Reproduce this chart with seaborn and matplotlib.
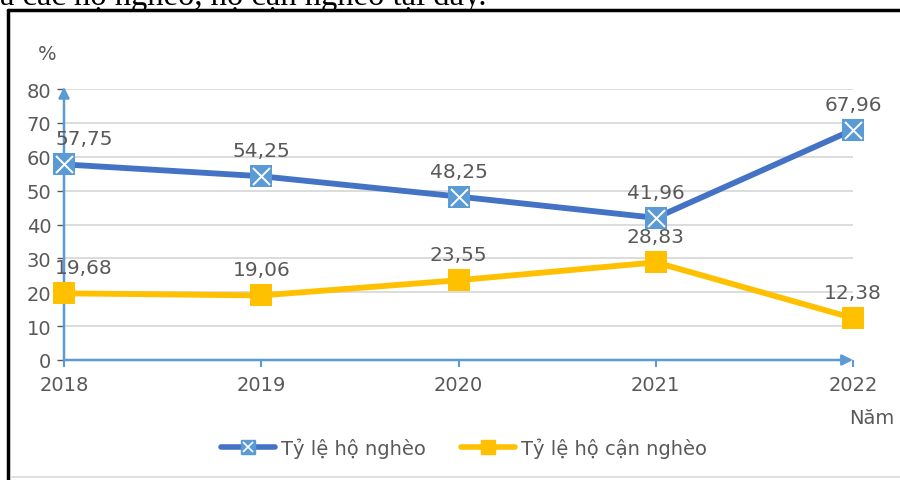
import matplotlib
matplotlib.use("Agg")
import matplotlib.pyplot as plt
import seaborn as sns
import pandas as pd
from matplotlib.lines import Line2D

years = [2018, 2019, 2020, 2021, 2022]
poor = [57.75, 54.25, 48.25, 41.96, 67.96]
near_poor = [19.68, 19.06, 23.55, 28.83, 12.38]
poor_labels = ["57,75", "54,25", "48,25", "41,96", "67,96"]
near_labels = ["19,68", "19,06", "23,55", "28,83", "12,38"]
yticks = [0, 10, 20, 30, 40, 50, 60, 70, 80]
name_poor = "Tỷ lệ hộ nghèo"
name_near = "Tỷ lệ hộ cận nghèo"

df = pd.DataFrame({
    "Năm": years * 2,
    "value": poor + near_poor,
    "series": [name_poor] * 5 + [name_near] * 5,
})

sns.set_style("white")
plt.rcParams['font.family'] = ['DejaVu Sans']

BLUE = "#4472C4"
LBLUE = "#5B9BD5"
YEL = "#FFC000"
GRAY = "#595959"
FS = 14

fig = plt.figure(figsize=(9, 4.81), dpi=100)
ax = fig.add_axes([64/900, 1-361/481, (853-64)/900, (361-90)/481])

sns.lineplot(data=df, x="Năm", y="value", hue="series",
             palette={name_poor: BLUE, name_near: YEL}, linewidth=4.2,
             legend=False, ax=ax, zorder=3)
for l in ax.lines:
    l.set_clip_on(False)
    l.set_solid_capstyle('round')

# markers
ax.scatter(years, poor, marker='s', s=230, color=LBLUE, zorder=5, clip_on=False, linewidths=0)
ax.scatter(years, poor, marker='x', s=150, color='white', zorder=6, clip_on=False, linewidths=1.4)
ax.scatter(years, near_poor, marker='s', s=270, color=YEL, zorder=5, clip_on=False, linewidths=0)

ax.set_xlim(2018, 2022)
ax.set_ylim(0, 80)
ax.set_yticks(yticks)
ax.set_xticks(years)
ax.set_xlabel("")
ax.set_ylabel("")
for s in ax.spines.values():
    s.set_visible(False)
ax.grid(axis='y', color='#D9D9D9', linewidth=1.3)
ax.grid(axis='x', visible=False)
ax.tick_params(axis='y', colors=GRAY, labelsize=FS, length=5, width=1, left=True, pad=4)
ax.tick_params(axis='x', colors=LBLUE, labelcolor=GRAY, labelsize=FS, length=5, width=1.5,
               bottom=True, direction='out', pad=6)

# arrows for axes
ax.annotate('', xy=(0, 1.008), xytext=(0, 0), xycoords='axes fraction',
            arrowprops=dict(arrowstyle='-|>', color=LBLUE, lw=1.8, mutation_scale=16,
                            shrinkA=0, shrinkB=0), zorder=4)
ax.annotate('', xy=(1.0, 0), xytext=(0, 0), xycoords='axes fraction',
            arrowprops=dict(arrowstyle='-|>', color=LBLUE, lw=1.8, mutation_scale=16,
                            shrinkA=0, shrinkB=0), zorder=4)

# data labels
offs_x = [20, 0, 0, 0, 0]
for i, (x, y, t) in enumerate(zip(years, poor, poor_labels)):
    ax.annotate(t, (x, y), xytext=(offs_x[i], 16), textcoords='offset pixels',
                ha='center', va='bottom', fontsize=FS + 0.5, color=GRAY, zorder=7)
for i, (x, y, t) in enumerate(zip(years, near_poor, near_labels)):
    ax.annotate(t, (x, y), xytext=(offs_x[i], 16), textcoords='offset pixels',
                ha='center', va='bottom', fontsize=FS + 0.5, color=GRAY, zorder=7)

fig.text(47/900, 1-54/481, "%", fontsize=FS, color=GRAY, ha='center', va='center')
fig.text(872/900, 1-418/481, "Năm", fontsize=FS, color=GRAY, ha='center', va='center')

# legend
h1 = Line2D([0], [0], color=BLUE, lw=4, marker='s', markersize=10,
            markerfacecolor=LBLUE, markeredgecolor=LBLUE)
h1x = Line2D([0], [0], color='none', lw=0, marker='x', markersize=7,
             markeredgecolor='white', markeredgewidth=1.2)
h2 = Line2D([0], [0], color=YEL, lw=4, marker='s', markersize=10,
            markerfacecolor=YEL, markeredgecolor=YEL)
fig.legend([(h1, h1x), h2], [name_poor, name_near], loc='center', bbox_to_anchor=(464/900, 1-449/481),
           ncol=2, frameon=False, fontsize=FS, labelcolor=GRAY, handlelength=2.8,
           columnspacing=1.8, handletextpad=0.3)

# border
fig.add_artist(Line2D([7.5/900, 900/900], [1-11/481, 1-11/481], color='black', lw=2.5,
                      transform=fig.transFigure))
fig.add_artist(Line2D([7.5/900, 7.5/900], [0, 1-11/481], color='black', lw=2.5,
                      transform=fig.transFigure))
fig.add_artist(Line2D([12/900, 900/900], [1-478/481, 1-478/481], color='#D9D9D9', lw=1.2,
                      transform=fig.transFigure))

# cut-off text at top
fig.text(0, 1-4.5/481, "a các hộ nghèo, hộ cận nghèo tại đây.", family='Liberation Serif',
         fontsize=23.5, color='black', ha='left', va='baseline')

fig.savefig("out.png", dpi=100)
